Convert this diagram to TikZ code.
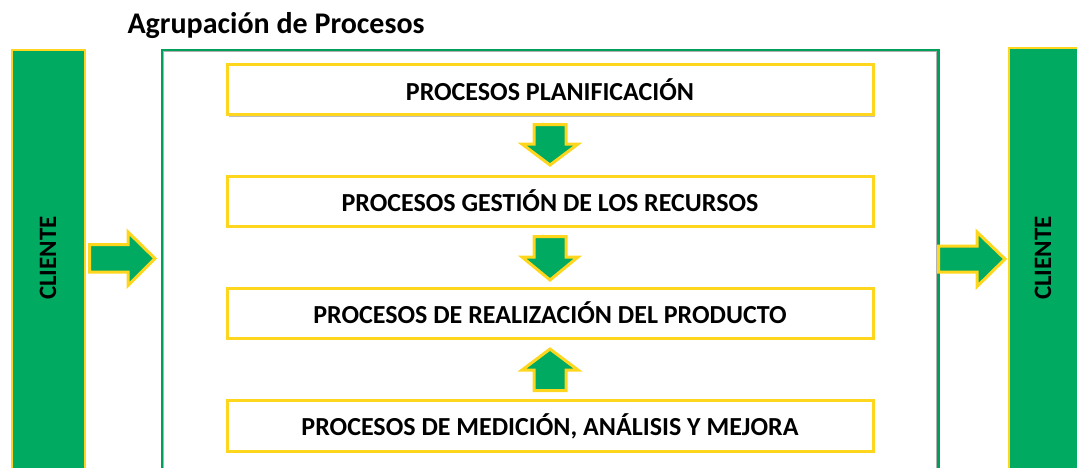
\documentclass[tikz,border=0pt]{standalone}
\usepackage{fontspec}
\setmainfont{Carlito}
\definecolor{cgreen}{RGB}{0,170,96}
\definecolor{cyellow}{RGB}{255,214,30}
\definecolor{boxgreen}{RGB}{0,160,90}
\tikzset{
  blockarrow/.style={fill=cgreen, draw=cyellow, line width=3pt, line join=miter},
  procbox/.style={draw=cyellow, fill=white, line width=3pt, minimum width=646pt, minimum height=50pt, inner sep=0pt, font=\bfseries\fontsize{26}{30}\selectfont, text=black},
  clientbar/.style={fill=cgreen, draw=cyellow, line width=2pt},
  clienttext/.style={rotate=90, font=\bfseries\fontsize{25}{28}\selectfont, text=black}
}
\begin{document}
\begin{tikzpicture}[x=1pt,y=-1pt]
\useasboundingbox (0,0) rectangle (1077,467);
\begin{scope}
\clip (0,0) rectangle (1077,467);
% client bars
\draw[clientbar] (11.5,49.5) rectangle (84.5,490);
\draw[clientbar] (1008.5,47.5) rectangle (1095,490);
% big group box
\draw[gray!60, line width=1.5pt] (163,490) -- (163,51.5) -- (937,51.5) -- (937,490);
\draw[boxgreen, line width=2.5pt] (162,490) -- (162,50) -- (938.5,50) -- (938.5,490);
\end{scope}
\node[clienttext] (cl) at (48,258) {CLIENTE};
\node[clienttext] (cr) at (1043,258) {CLIENTE};
\node[anchor=base west, font=\bfseries\fontsize{30}{34}\selectfont] (title) at (124,33) {Agrupación de Procesos};
% process boxes with shadow
\foreach \y in {89.5,201,313,426}{
  \fill[gray!50] (229,\y) ++(0,-23) rectangle ++(646,50);
}
\node[procbox] (p1) at (550,89.5) {PROCESOS PLANIFICACIÓN};
\node[procbox] (p2) at (550,201) {PROCESOS GESTIÓN DE LOS RECURSOS};
\node[procbox] (p3) at (550,313) {PROCESOS DE REALIZACIÓN DEL PRODUCTO};
\node[procbox, minimum height=51pt] (p4) at (550,426) {PROCESOS DE MEDICIÓN, ANÁLISIS Y MEJORA};
% vertical arrows
\draw[blockarrow] (534,124.5) -- (566,124.5) -- (566,144) -- (578,144) -- (550,165) -- (522,144) -- (534,144) -- cycle;
\draw[blockarrow] (534,236.5) -- (566,236.5) -- (566,257) -- (578,257) -- (550,280) -- (522,257) -- (534,257) -- cycle;
\draw[blockarrow] (534,390.5) -- (566,390.5) -- (566,370) -- (578,370) -- (550,349) -- (522,370) -- (534,370) -- cycle;
% horizontal arrows
\draw[blockarrow] (89.5,244.5) -- (128,244.5) -- (128,232) -- (155,258.5) -- (128,285.5) -- (128,272) -- (89.5,272) -- cycle;
\draw[blockarrow] (938.5,246) -- (977,246) -- (977,232) -- (1005,259) -- (977,286.5) -- (977,272) -- (938.5,272) -- cycle;
\end{tikzpicture}
\end{document}
